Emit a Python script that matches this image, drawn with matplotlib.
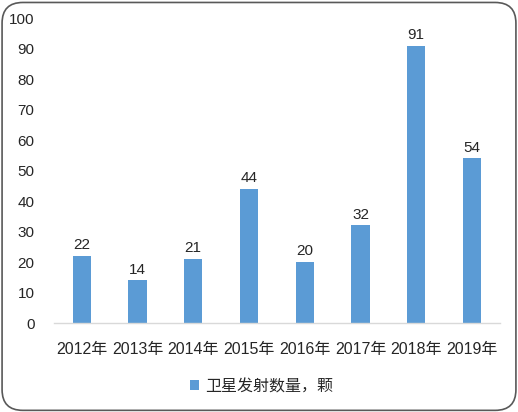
import matplotlib
matplotlib.use("Agg")
import matplotlib.pyplot as plt
from matplotlib.patches import FancyBboxPatch

categories = ["2012年", "2013年", "2014年", "2015年", "2016年", "2017年", "2018年", "2019年"]
values = [22, 14, 21, 44, 20, 32, 91, 54]
series_name = "卫星发射数量，颗"

plt.rcParams['font.family'] = ['Liberation Sans', 'Noto Sans CJK SC', 'DejaVu Sans']

fig = plt.figure(figsize=(5.18, 4.12), dpi=100)
border = FancyBboxPatch((0.004, 0.004), 0.992, 0.99, boxstyle="round,pad=0,rounding_size=0.04",
                        transform=fig.transFigure, facecolor="none", edgecolor="#595959",
                        linewidth=1.2, mutation_aspect=518/412, zorder=10)
fig.patches.append(border)

ax = fig.add_axes([0.104, 0.216, 0.861, 0.740])
ax.set_facecolor("none")
x = range(len(categories))
bars = ax.bar(x, values, width=0.33, color="#5B9BD5", label=series_name, zorder=2)
for xi, v in zip(x, values):
    ax.text(xi, v + 1.2, str(v), ha="center", va="bottom", fontsize=11, color="#262626")

ax.set_xlim(-0.5, len(categories) - 0.5)
ax.set_ylim(0, 100)
ax.set_yticks(range(0, 101, 10))
ax.set_xticks(list(x))
ax.set_xticklabels(categories, fontsize=11.5)
ax.tick_params(axis="both", length=0, labelsize=11, colors="#262626")
ax.tick_params(axis="x", labelsize=11.5)
ax.tick_params(axis="y", pad=14)
ax.tick_params(axis="x", pad=14)
for s in ["top", "right", "left"]:
    ax.spines[s].set_visible(False)
ax.spines["bottom"].set_color("#D9D9D9")
ax.spines["bottom"].set_linewidth(1)

leg = fig.legend(handles=[bars], labels=[series_name], loc="center", bbox_to_anchor=(0.505, 0.062),
                 frameon=False, fontsize=11.5, handlelength=0.6, handleheight=0.6, handletextpad=0.4)
for t in leg.get_texts():
    t.set_color("#262626")

fig.savefig("out.png", dpi=100)
